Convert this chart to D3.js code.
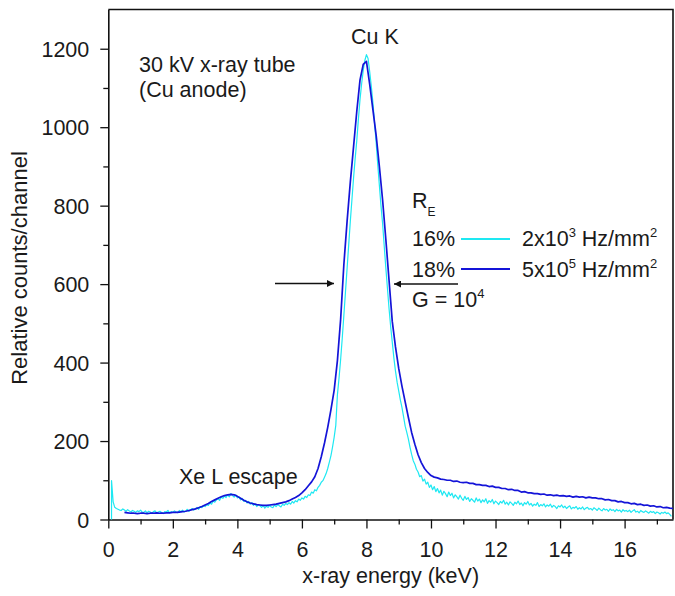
<!DOCTYPE html>
<html>
<head>
<meta charset="utf-8">
<script src="https://cdn.jsdelivr.net/npm/d3@7"></script>
<style>
  body { margin: 0; background: #fff; }
  svg { display: block; }
  text { font-family: "Liberation Sans", Arial, sans-serif; fill: #1a1a1a; }
</style>
</head>
<body>
<div id="chart"></div>
<script>
// energy grids, keV
const lowEnergy = d3.range(2, 350).map(i => i / 20);   // 0.10 .. 17.45, 0.05 steps
const highEnergy = d3.range(1, 176).map(i => i / 10);  // 0.1 .. 17.5, 0.1 steps

// 2x10^3 Hz/mm^2 (cyan) counts per channel, one row per 0.5 keV
const lowRate = [
  99, 45, 31, 28, 26, 24, 23, 27, 24, 21,
  25, 22, 19, 23, 21, 18, 22, 20, 24, 19,
  18, 22, 17, 21, 19, 16, 20, 22, 17, 19,
  21, 18, 15, 20, 19, 23, 17, 20, 18, 22,
  19, 17, 23, 20, 24, 19, 22, 26, 21, 25,
  28, 24, 27, 31, 26, 33, 30, 35, 33, 38,
  36, 42, 39, 47, 44, 50, 53, 49, 57, 54,
  60, 56, 63, 58, 66, 61, 57, 63, 55, 58,
  50, 54, 46, 49, 42, 46, 39, 43, 36, 40,
  33, 38, 35, 31, 36, 29, 34, 31, 36, 32,
  30, 37, 33, 38, 35, 32, 39, 36, 41, 38,
  43, 39, 46, 42, 48, 45, 52, 49, 55, 52,
  59, 56, 63, 61, 70, 67, 76, 73, 82, 87,
  95, 99, 108, 117, 130, 146, 163, 185, 210, 240,
  318, 360, 408, 462, 520, 580, 640, 700, 760, 815,
  870, 920, 965, 1020, 1070, 1110, 1145, 1170, 1185, 1175,
  1142, 1105, 1063, 1012, 962, 905, 852, 800, 755, 698,
  642, 590, 538, 492, 452, 412, 378, 350, 328, 305,
  286, 262, 238, 222, 205, 184, 166, 150, 141, 128,
  121, 109, 112, 98, 103, 90, 95, 82, 88, 76,
  84, 71, 79, 68, 75, 62, 72, 66, 58, 70,
  61, 67, 55, 63, 58, 52, 62, 54, 49, 59,
  51, 56, 46, 53, 49, 44, 55, 47, 52, 43,
  50, 45, 53, 41, 48, 44, 51, 40, 47, 43,
  38, 46, 42, 49, 39, 44, 37, 45, 41, 36,
  44, 40, 47, 38, 42, 35, 43, 39, 46, 37,
  41, 34, 39, 36, 43, 33, 38, 35, 40, 32,
  37, 34, 39, 31, 36, 33, 28, 35, 32, 37,
  30, 34, 28, 32, 35, 27, 31, 29, 33, 26,
  30, 27, 32, 25, 29, 31, 26, 28, 24, 30,
  27, 23, 29, 25, 22, 28, 24, 26, 21, 27,
  23, 25, 20, 26, 22, 24, 19, 25, 21, 23,
  20, 24, 18, 22, 25, 19, 21, 17, 23, 20,
  18, 22, 19, 16, 21, 18, 20, 15, 19, 17,
  14, 18, 16, 19, 15, 17, 13, 8
];

// 5x10^5 Hz/mm^2 (blue), one row per keV
const highRate = [
  null, null, null, null, 18, 17, 16, 16, 15, 16,
  16, 15, 16, 16, 17, 16, 16, 17, 17, 18,
  18, 19, 20, 21, 23, 25, 27, 30, 33, 37,
  41, 46, 50, 54, 58, 61, 63, 64, 63, 59,
  54, 49, 45, 42, 40, 38, 37, 36, 36, 37,
  38, 39, 41, 43, 45, 48, 52, 56, 61, 68,
  76, 86, 96, 109, 130, 160, 195, 235, 280, 330,
  405, 510, 650, 760, 860, 950, 1040, 1120, 1160, 1168,
  1110, 1045, 980, 900, 815, 715, 610, 505, 440, 385,
  340, 300, 260, 222, 192, 165, 145, 130, 120, 112,
  108, 106, 103, 102, 100, 100, 97, 98, 95, 94,
  95, 92, 92, 89, 89, 87, 87, 84, 85, 82,
  82, 79, 79, 76, 77, 74, 74, 70, 71, 68,
  68, 66, 66, 64, 65, 62, 63, 61, 62, 60,
  61, 59, 60, 57, 59, 57, 58, 55, 57, 55,
  55, 53, 53, 50, 51, 48, 48, 45, 46, 43,
  43, 40, 41, 38, 39, 36, 37, 34, 35, 32,
  33, 30, 31, 29, 28
];

const xTicks = [0, 2, 4, 6, 8, 10, 12, 14, 16];
const yTicks = [0, 200, 400, 600, 800, 1000, 1200];
const cyan = "#1ee8f2";
const blue = "#1414d8";

const W = 675, H = 596;
const m = { left: 108.3, right: 2, top: 9.5, bottom: 76.5 };

const svg = d3.select("#chart").append("svg").attr("width", W).attr("height", H);

const x = d3.scaleLinear().domain([0, 17.5]).range([m.left, W - m.right]);
const y = d3.scaleLinear().domain([0, 1300]).range([H - m.bottom, m.top]);

// minor ticks first (no labels)
svg.append("g")
  .attr("transform", `translate(0,${y(0)})`)
  .call(d3.axisBottom(x).tickValues(d3.range(1, 18, 2)).tickSize(5).tickFormat(""))
  .call(g => g.select(".domain").remove());
svg.append("g")
  .attr("transform", `translate(${x(0)},0)`)
  .call(d3.axisLeft(y).tickValues(d3.range(100, 1300, 200)).tickSize(5).tickFormat(""))
  .call(g => g.select(".domain").remove());

const xAxis = svg.append("g")
  .attr("transform", `translate(0,${y(0)})`)
  .call(d3.axisBottom(x).tickValues(xTicks).tickFormat(d3.format("d"))
    .tickSize(9).tickPadding(8).tickSizeOuter(0));
const yAxis = svg.append("g")
  .attr("transform", `translate(${x(0)},0)`)
  .call(d3.axisLeft(y).tickValues(yTicks).tickFormat(d3.format("d"))
    .tickSize(8).tickPadding(11).tickSizeOuter(0));

svg.selectAll(".tick line").attr("stroke", "#111").attr("stroke-width", 1.3);
svg.selectAll(".domain").attr("stroke", "#111").attr("stroke-width", 1.6);
xAxis.selectAll("text").attr("font-size", 21.5).attr("fill", "#1a1a1a").attr("dy", "0.95em");
yAxis.selectAll("text").attr("font-size", 21.5).attr("fill", "#1a1a1a").attr("dy", "0.36em");

// top and right frame
svg.append("path")
  .attr("d", `M${x(0)},${y(1300)}H${x(17.5)}V${y(0)}`)
  .attr("fill", "none").attr("stroke", "#111").attr("stroke-width", 1.6);

const line = d3.line()
  .defined(d => d.v != null)
  .x(d => x(d.e))
  .y(d => y(d.v));

// cyan trace starts with a spike rising from the axis
const lowPts = [{ e: 0.1, v: 0 }].concat(lowEnergy.map((e, i) => ({ e: e, v: lowRate[i] })));
const highPts = highEnergy.map((e, i) => ({ e: e, v: highRate[i] }));

svg.append("path").datum(lowPts)
  .attr("fill", "none").attr("stroke", cyan).attr("stroke-width", 1.2)
  .attr("stroke-linejoin", "round").attr("d", line);
svg.append("path").datum(highPts)
  .attr("fill", "none").attr("stroke", blue).attr("stroke-width", 1.7)
  .attr("stroke-linejoin", "round").attr("d", line);

// axis titles
svg.append("text")
  .attr("x", (x(0) + x(17.5)) / 2).attr("y", 583)
  .attr("text-anchor", "middle").attr("font-size", 21.5)
  .text("x-ray energy (keV)");
svg.append("text")
  .attr("transform", "translate(27,268) rotate(-90)")
  .attr("text-anchor", "middle").attr("font-size", 22)
  .text("Relative counts/channel");

// annotations
const note = (tx, ty, s) => svg.append("text").attr("x", tx).attr("y", ty).attr("font-size", 21.5).text(s);
note(139, 72, "30 kV x-ray tube");
note(139, 97, "(Cu anode)");
note(351, 44, "Cu K");
note(179, 484, "Xe L escape");

// R_E heading
const re = note(412, 208, "R");
re.append("tspan").attr("font-size", 12).attr("dy", 8).text("E");

note(412, 246, "16%");
note(412, 277, "18%");

const sup = (tx, ty, base, exp, tail, exp2) => {
  const t = note(tx, ty, base);
  t.append("tspan").attr("font-size", 13).attr("dy", -9).text(exp);
  t.append("tspan").attr("dy", 9).text(tail);
  if (exp2) t.append("tspan").attr("font-size", 13).attr("dy", -9).text(exp2);
};
sup(522, 246, "2x10", "3", " Hz/mm", "2");
sup(522, 277, "5x10", "5", " Hz/mm", "2");
sup(412, 307, "G = 10", "4", "", null);

// legend lines
svg.append("line").attr("x1", 461).attr("x2", 510).attr("y1", 239).attr("y2", 239)
  .attr("stroke", cyan).attr("stroke-width", 2);
svg.append("line").attr("x1", 461).attr("x2", 510).attr("y1", 269).attr("y2", 269)
  .attr("stroke", blue).attr("stroke-width", 2);

// FWHM arrows
svg.append("defs").append("marker")
  .attr("id", "head").attr("viewBox", "0 0 10 10")
  .attr("refX", 10).attr("refY", 5)
  .attr("markerWidth", 10).attr("markerHeight", 7)
  .attr("markerUnits", "userSpaceOnUse")
  .attr("orient", "auto")
  .append("path").attr("d", "M0,0L10,5L0,10Z").attr("fill", "#111");

svg.append("line").attr("x1", 275).attr("x2", 334).attr("y1", 283.5).attr("y2", 283.5)
  .attr("stroke", "#111").attr("stroke-width", 1.3).attr("marker-end", "url(#head)");
svg.append("line").attr("x1", 458).attr("x2", 394).attr("y1", 284).attr("y2", 284)
  .attr("stroke", "#111").attr("stroke-width", 1.3).attr("marker-end", "url(#head)");
</script>
</body>
</html>
